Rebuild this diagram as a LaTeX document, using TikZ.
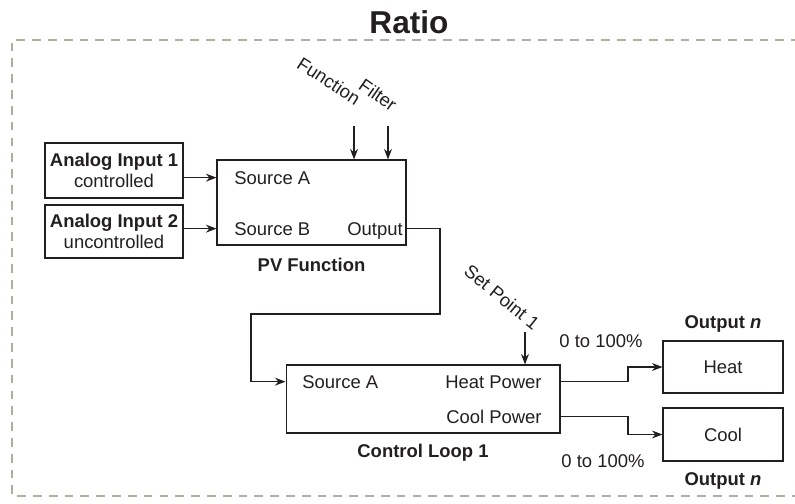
\documentclass[tikz,border=0pt]{standalone}
\usepackage{fontspec}
\setmainfont{Liberation Sans}
\usetikzlibrary{positioning,arrows.meta}
\definecolor{FrameGray}{RGB}{180,172,160}
\definecolor{InkBlack}{RGB}{35,31,32}

\begin{document}
\begin{tikzpicture}[
    x=0.02cm, y=-0.02cm,
    font=\fontsize{10.5}{12}\selectfont, color=InkBlack,
    block/.style={rectangle, draw, line width=0.6pt, inner sep=0pt, align=center},
    port/.style={inner sep=0pt},
    caption/.style={inner sep=0pt, font=\fontsize{10.5}{12}\selectfont\bfseries},
    line/.style={draw, line width=0.6pt, -{Stealth[length=6pt,width=4.5pt]}},
    tag/.style={inner sep=0pt},
    frame/.style={draw=FrameGray, line width=1.7pt, dash pattern=on 5pt off 4pt}
]
\clip (0,0) rectangle (795,504);
\useasboundingbox (0,0) rectangle (795,504);

% Title and frame
\node [font=\fontsize{18}{20}\selectfont\bfseries] (title) at (409,22) {Ratio};
\draw [frame] (800,40) -- (12,40) -- (12,496) -- (800,496);

% Place nodes
\node [block, minimum width=2.76cm, minimum height=1.1cm] (ai1) at (114,170.5) {\textbf{Analog Input 1}\\controlled};
\node [block, minimum width=2.76cm, minimum height=1.06cm] (ai2) at (114,231.5) {\textbf{Analog Input 2}\\uncontrolled};
\node [block, minimum width=3.78cm, minimum height=1.7cm] (pv) at (311.5,202.5) {};
\node [port, anchor=base west] (srcA) at (234,184) {Source A};
\node [port, anchor=base west] (srcB) at (234,235) {Source B};
\node [port, anchor=base east] (pvout) at (403,235) {Output};
\node [caption, below=0.24cm of pv] (pvcap) {PV Function};

\node [block, minimum width=5.48cm, minimum height=1.36cm] (loop) at (423,399) {};
\node [port, anchor=base west] (loopA) at (302,388) {Source A};
\node [port, anchor=base east] (heatpw) at (542,388) {Heat Power};
\node [port, anchor=base east] (coolpw) at (542,423) {Cool Power};
\node [caption, below=0.2cm of loop] (loopcap) {Control Loop 1};

\node [block, minimum width=2.4cm, minimum height=1.04cm] (heat) at (723,367) {Heat};
\node [block, minimum width=2.4cm, minimum height=1.06cm] (cool) at (723,434.5) {Cool};
\node [caption, above=0.16cm of heat] (heatcap) {Output \textit{n}};
\node [caption, below=0.22cm of cool] (coolcap) {Output \textit{n}};
\node [port] (heatpct) at (601,341.5) {0 to 100\%};
\node [port] (coolpct) at (603,461.5) {0 to 100\%};

\node [tag, rotate=-33] (fnlab) at (329,81) {Function};
\node [tag, rotate=-35] (filtlab) at (378,95) {Filter};
\node [tag, rotate=-39] (splab) at (502,297) {Set Point 1};

\coordinate (fnin) at (354,126);
\coordinate (filtin) at (388,126);
\coordinate (spin) at (525,332);
\coordinate (bend1) at (440,314);
\coordinate (bend2) at (251,314);
\coordinate (split) at (628,0);

% Draw edges
\draw [line] (ai1.east |- srcA) -- (pv.west |- srcA);
\draw [line] (ai2.east |- srcB) -- (pv.west |- srcB);
\draw [line] (fnin) -- (fnin |- pv.north);
\draw [line] (filtin) -- (filtin |- pv.north);
\draw [line] (pv.east |- srcB) -| (bend1) -- (bend2) |- (loop.west |- loopA);
\draw [line] (spin) -- (spin |- loop.north);
\draw [line] (loop.east |- heatpw) -| (split |- heat) -- (heat.west);
\draw [line] (loop.east |- coolpw) -| (split |- cool) -- (cool.west);
\end{tikzpicture}
\end{document}
